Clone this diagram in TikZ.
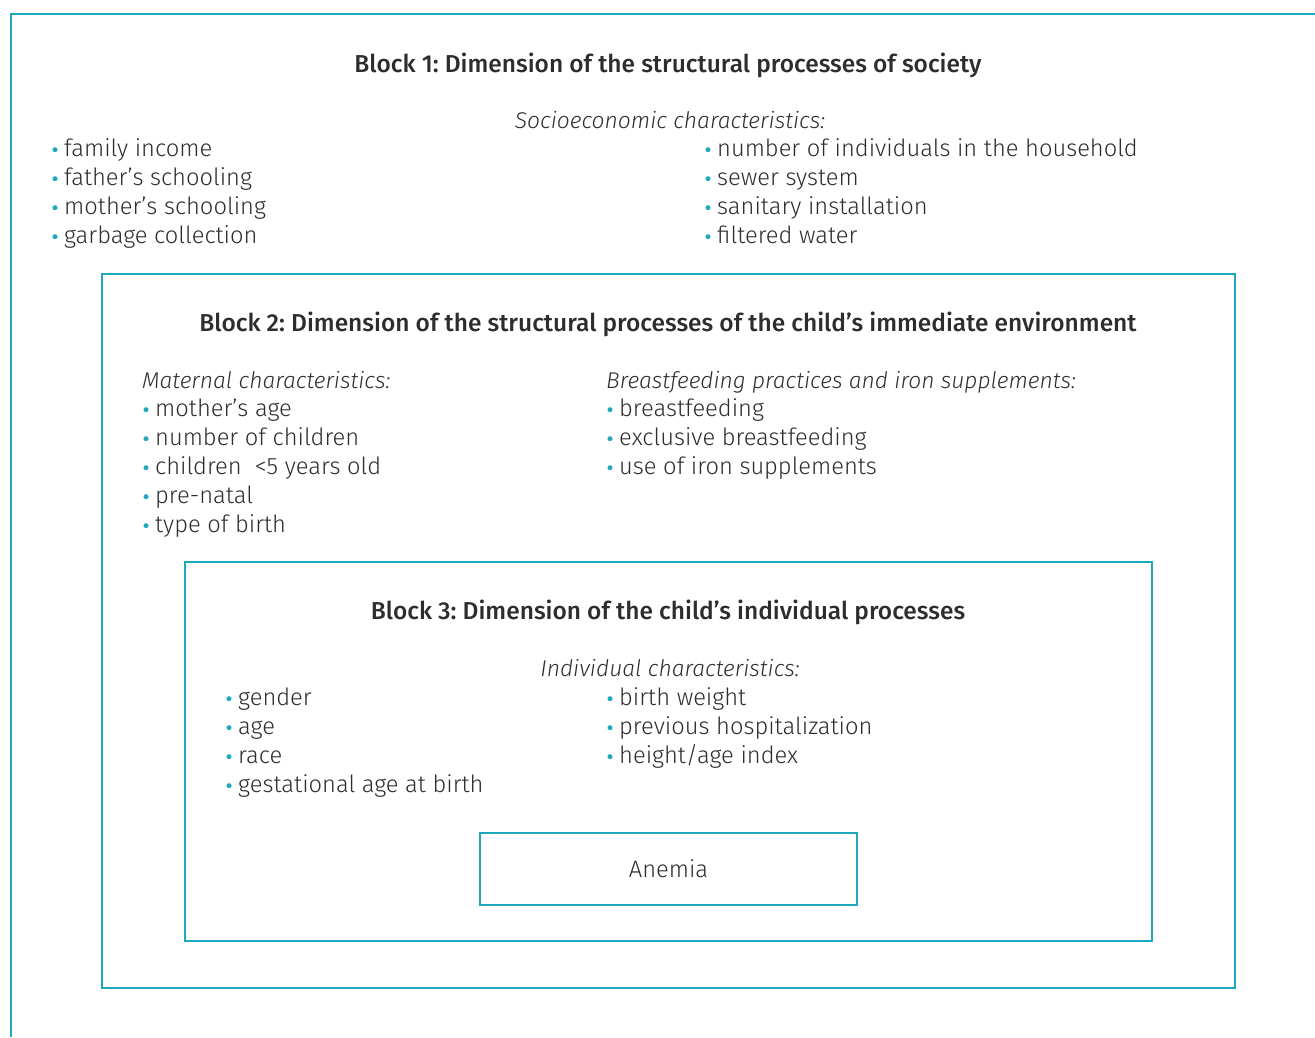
\documentclass[tikz,border=0pt]{standalone}
\usepackage{fontspec}
\setmainfont{Fira Sans}[UprightFont=* Light, ItalicFont=* Light Italic, BoldFont=* Medium]
\newfontfamily\dvfont{DejaVu Sans}
\frenchspacing
\definecolor{tl}{RGB}{30,168,190}
\definecolor{ink}{RGB}{45,45,45}
\newcommand\bul{\llap{\textcolor{tl}{\dvfont\fontsize{17}{17}\selectfont •}\hspace{4pt}}}
\tikzset{
  frame/.style={draw=tl, line width=1.5pt},
  item/.style={anchor=base west, inner sep=0pt, text=ink, font=\fontsize{23.7}{29}\selectfont},
  head/.style={anchor=base, inner sep=0pt, text=ink, font=\fontsize{22.8}{29}\selectfont\itshape},
  ihead/.style={anchor=base west, inner sep=0pt, text=ink, font=\fontsize{22.8}{29}\selectfont\itshape},
  title/.style={anchor=base, inner sep=0pt, text=ink, font=\fontsize{24.5}{29}\selectfont\bfseries},
}
\begin{document}
\begin{tikzpicture}[x=1pt,y=-1pt]
\useasboundingbox (0,0) rectangle (1315,1037);
% outer frame (cut off at right and bottom)
\draw[frame] (11,1037) -- (11,14) -- (1315,14);
% boxes
\draw[frame] (102,274) rectangle (1235,988);
\draw[frame] (185,562) rectangle (1152,941);
\node[draw=tl, line width=1.5pt, minimum width=377pt, minimum height=72pt, inner sep=0pt, text=ink, font=\fontsize{23.7}{29}\selectfont] (anemia) at (668.5,869) {Anemia};
% Block 1
\node[title] (t1) at (668,72) {Block 1: Dimension of the structural processes of society};
\node[head] (h1) at (670,128) {Socioeconomic characteristics:};
\node[item] (a1) at (64,156) {\bul family income};
\node[item] (a2) at (64,185) {\bul father’s schooling};
\node[item] (a3) at (64,214) {\bul mother’s schooling};
\node[item] (a4) at (64,243) {\bul garbage collection};
\node[item] (b1) at (717,156) {\bul number of individuals in the household};
\node[item] (b2) at (717,185) {\bul sewer system};
\node[item] (b3) at (717,214) {\bul sanitary installation};
\node[item] (b4) at (717,243) {\bul filtered water};
% Block 2
\node[title] (t2) at (668,331) {Block 2: Dimension of the structural processes of the child’s immediate environment};
\node[ihead] (h2a) at (142,388) {Maternal characteristics:};
\node[item] (c1) at (155,416) {\bul mother’s age};
\node[item] (c2) at (155,445) {\bul number of children};
\node[item] (c3) at (155,474) {\bul children \ <5 years old};
\node[item] (c4) at (155,503) {\bul pre-natal};
\node[item] (c5) at (155,532) {\bul type of birth};
\node[ihead] (h2b) at (606,388) {Breastfeeding practices and iron supplements:};
\node[item] (d1) at (619,416) {\bul breastfeeding};
\node[item] (d2) at (619,445) {\bul exclusive breastfeeding};
\node[item] (d3) at (619,474) {\bul use of iron supplements};
% Block 3
\node[title] (t3) at (668,619) {Block 3: Dimension of the child’s individual processes};
\node[head] (h3) at (670,676) {Individual characteristics:};
\node[item] (e1) at (238,705) {\bul gender};
\node[item] (e2) at (238,734) {\bul age};
\node[item] (e3) at (238,763) {\bul race};
\node[item] (e4) at (238,792) {\bul gestational age at birth};
\node[item] (f1) at (619,705) {\bul birth weight};
\node[item] (f2) at (619,734) {\bul previous hospitalization};
\node[item] (f3) at (619,763) {\bul height/age index};
\end{tikzpicture}
\end{document}
